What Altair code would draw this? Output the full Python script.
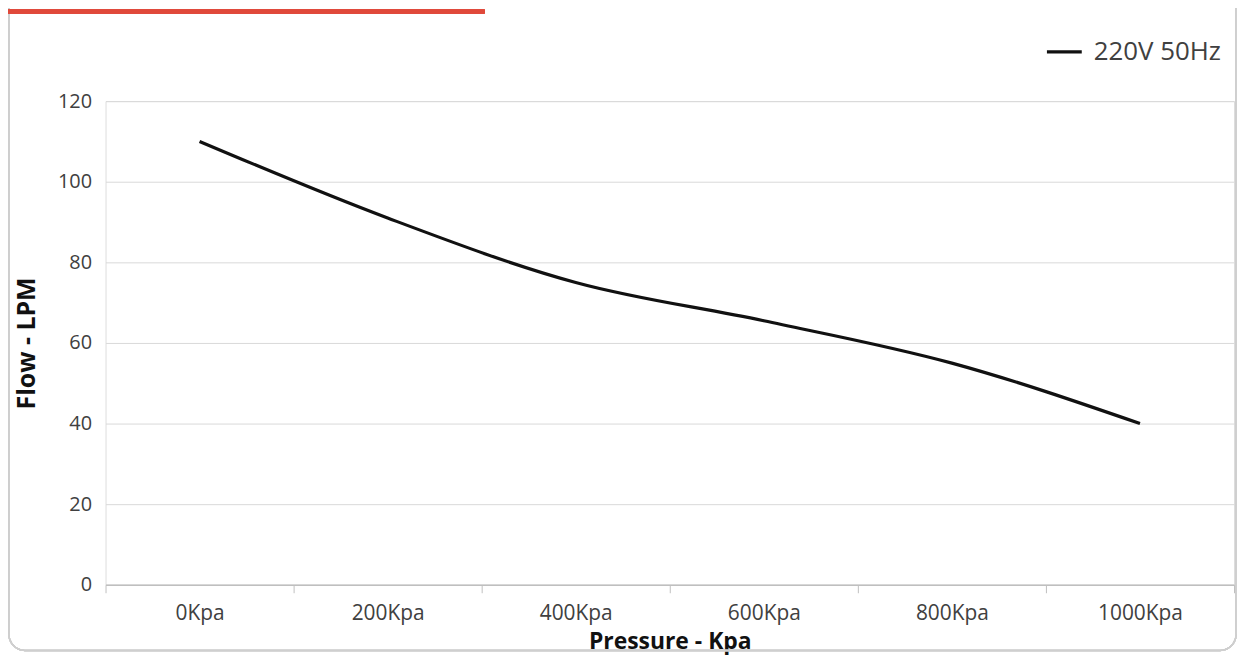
import altair as alt
import pandas as pd

pressure = ["0Kpa", "200Kpa", "400Kpa", "600Kpa", "800Kpa", "1000Kpa"]
flow = [110, 91, 75, 65.5, 55, 40]
series = ["220V 50Hz"] * len(pressure)

df = pd.DataFrame({"Pressure": pressure, "Flow": flow, "Series": series})

W, H = 1134, 486
FONT = "Open Sans"

line = alt.Chart(df).mark_line(
    interpolate="monotone", strokeWidth=3.2, color="#111111"
).encode(
    x=alt.X(
        "Pressure:N",
        sort=pressure,
        scale=alt.Scale(type="band", paddingInner=0, paddingOuter=0),
        axis=alt.Axis(
            title="Pressure - Kpa",
            labelAngle=0,
            tickBand="extent",
            ticks=True,
            tickSize=8,
            tickColor="#bfbfbf",
            domainColor="#bfbfbf",
            domainWidth=1.5,
            grid=False,
            labelFont=FONT,
            labelFontSize=21,
            labelColor="#404040",
            labelPadding=10,
            titleFont=FONT,
            titleFontSize=23,
            titleFontWeight="bold",
            titleColor="#111111",
            titleBaseline="alphabetic",
            titleY=64,
        ),
    ),
    y=alt.Y(
        "Flow:Q",
        scale=alt.Scale(domain=[0, 120]),
        axis=alt.Axis(
            title="Flow - LPM",
            values=[0, 20, 40, 60, 80, 100, 120],
            domain=False,
            ticks=False,
            gridColor="#d9d9d9",
            gridWidth=1,
            labelFont=FONT,
            labelFontSize=20,
            labelColor="#404040",
            labelPadding=14,
            titleFont=FONT,
            titleFontSize=25,
            titleFontWeight="bold",
            titleColor="#111111",
            titlePadding=18,
        ),
    ),
    stroke=alt.Stroke(
        "Series:N",
        scale=alt.Scale(range=["#111111"]),
        legend=alt.Legend(
            title=None,
            orient="none",
            legendX=944,
            legendY=-69,
            symbolType="stroke",
            symbolSize=1225,
            symbolStrokeWidth=3.2,
            symbolStrokeColor="#111111",
            labelFont=FONT,
            labelFontSize=26,
            labelColor="#404040",
            labelOffset=10,
            padding=0,
        ),
    ),
)

border = alt.Chart(df).mark_rect(
    fill="transparent", stroke="#cfcfcf", strokeWidth=1.5, cornerRadius=16, clip=False
).encode(
    x=alt.value(-97), x2=alt.value(W + 2), y=alt.value(-110), y2=alt.value(H + 66)
)

redbar = alt.Chart(df).mark_rect(color="#e0493a", clip=False).encode(
    x=alt.value(-98), x2=alt.value(381), y=alt.value(-92), y2=alt.value(-88)
)

chart = alt.layer(border, redbar, line).properties(
    width=W,
    height=H,
    autosize=alt.AutoSizeParams(type="none"),
    padding={"left": 98, "top": 92, "right": 3, "bottom": 70},
).configure_view(stroke=None).configure(background="white")

chart.save("out.html", embed_options={"renderer": "svg", "actions": False})
